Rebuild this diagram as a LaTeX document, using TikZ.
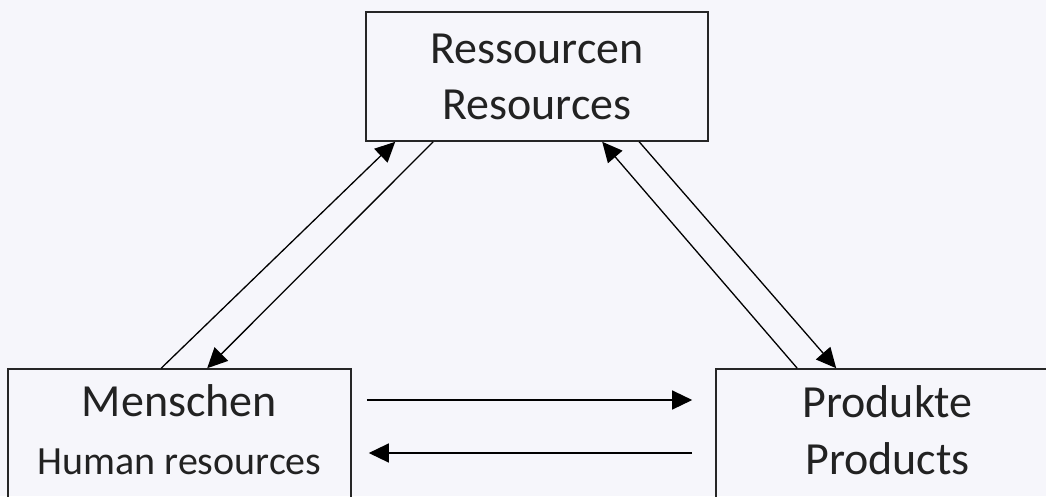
\documentclass[tikz,border=0pt]{standalone}
\usepackage{fontspec}
\setmainfont{Carlito}
\usetikzlibrary{arrows.meta}
\definecolor{bg}{HTML}{F6F6FB}
\definecolor{txt}{HTML}{222222}
\begin{document}
\begin{tikzpicture}[x=1pt,y=-1pt,
  box/.style={draw=black!85,line width=1.6pt,minimum width=342pt,minimum height=129pt,inner sep=0pt,text=txt,align=center},
  conn/.style={line width=1.3pt,-{Triangle[length=20pt,width=19pt]}}]
\fill[bg] (0,0) rectangle (1046,496);
\useasboundingbox (0,0) rectangle (1046,496);
\clip (0,0) rectangle (1046,496);
\node[box,font=\fontsize{46}{56}\selectfont] (top) at (537,76.5) {Ressourcen\\Resources};
\node[box,minimum width=343pt,text depth=7pt,font=\fontsize{46}{58}\selectfont] (left) at (179.5,433.5) {Menschen\\{\fontsize{40}{58}\selectfont Human resources}};
\node[box,minimum width=343pt,text depth=7pt,font=\fontsize{46}{57}\selectfont] (right) at (887.5,433.5) {Produkte\\Products};
\draw[conn] ([xshift=154pt]left.north west) -- ([xshift=30pt]top.south west);
\draw[conn] ([xshift=68pt]top.south west) -- ([xshift=200pt]left.north west);
\draw[conn] ([xshift=82pt]right.north west) -- ([xshift=237pt]top.south west);
\draw[conn] ([xshift=274pt]top.south west) -- ([xshift=121pt]right.north west);
\draw[conn] ([xshift=15pt,yshift=33.5pt]left.east) -- ([xshift=-23pt,yshift=33.5pt]right.west);
\draw[conn] ([xshift=-23pt,yshift=-19.5pt]right.west) -- ([xshift=17pt,yshift=-19.5pt]left.east);
\end{tikzpicture}
\end{document}
